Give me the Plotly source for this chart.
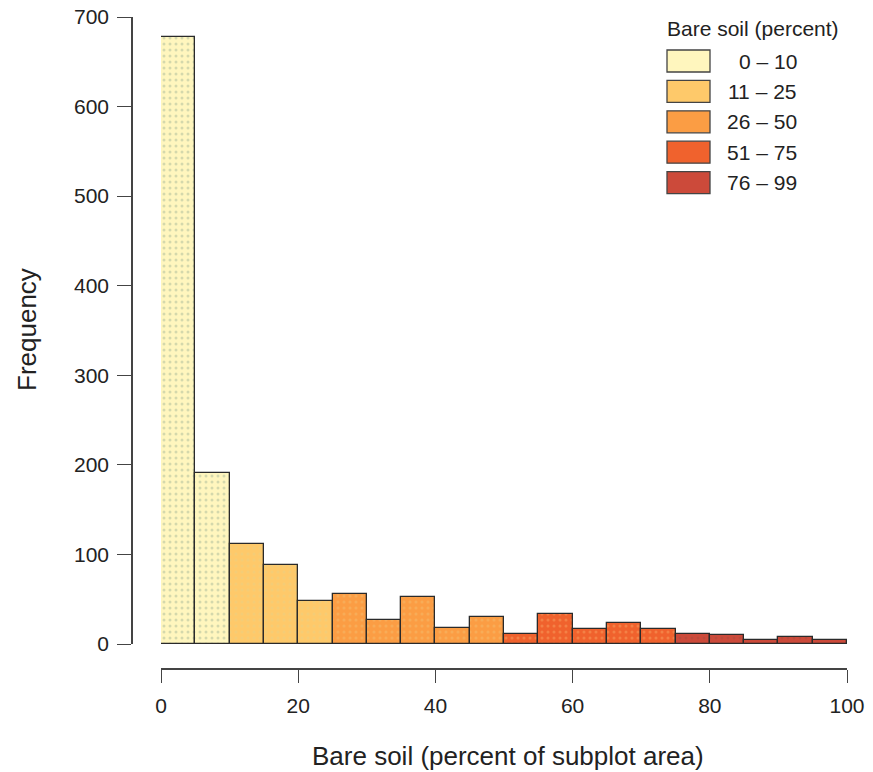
import plotly.graph_objects as go

# ---- data ----
bin_edges = [0, 5, 10, 15, 20, 25, 30, 35, 40, 45, 50, 55, 60, 65, 70, 75, 80, 85, 90, 95, 100]
counts = [678, 191, 112, 88, 48, 56, 27, 53, 18, 30, 11, 34, 17, 23, 17, 11, 10, 5, 8, 5]
bin_class = [0, 0, 1, 1, 1, 2, 2, 2, 2, 2, 3, 3, 3, 3, 3, 4, 4, 4, 4, 4]
class_labels = ["0 \u2013 10", "11 \u2013 25", "26 \u2013 50", "51 \u2013 75", "76 \u2013 99"]
class_colors = ["#FFF6BE", "#FEC96A", "#FB9D44", "#F0622D", "#CC4A3A"]
dot_colors = ["#A9B99A", "#E9CF82", "#F3BC6C", "#F5A060", "#A9493B"]
y_ticks = [0, 100, 200, 300, 400, 500, 600, 700]
x_ticks = [0, 20, 40, 60, 80, 100]
legend_title = "Bare soil (percent)"
x_title = "Bare soil (percent of subplot area)"
y_title = "Frequency"

W, H = 873, 772
ML, MR, MT, MB = 132, 26, 17, 103
PW, PH = W - ML - MR, H - MT - MB
x_dom0 = (161 - ML) / PW
y_dom0 = (669 - 644) / PH

def px(x):
    return (x - ML) / PW

def py(y):
    return (H - MB - y) / PH

fig = go.Figure()
for ci, lab in enumerate(class_labels):
    xs, ys, ws = [], [], []
    for i, c in enumerate(counts):
        if bin_class[i] == ci:
            xs.append((bin_edges[i] + bin_edges[i + 1]) / 2)
            ws.append(bin_edges[i + 1] - bin_edges[i])
            ys.append(c)
    fig.add_trace(go.Bar(
        x=xs, y=ys, width=ws, name=lab, showlegend=False,
        marker=dict(color=class_colors[ci],
                    line=dict(color="#2a2a2a", width=1.3),
                    pattern=dict(shape=".", fgcolor=dot_colors[ci],
                                 bgcolor=class_colors[ci], size=6, solidity=0.2)),
    ))

font_family = "Liberation Sans, Arial, sans-serif"
fig.update_layout(
    width=W, height=H, autosize=False,
    margin=dict(l=ML, r=MR, t=MT, b=MB, autoexpand=False),
    paper_bgcolor="white", plot_bgcolor="white",
    bargap=0,
    font=dict(family=font_family, color="#222222"),
    xaxis=dict(range=[0, 100], domain=[x_dom0, 1], anchor="free", position=0,
               automargin=False,
               tickvals=x_ticks, ticks="outside", ticklen=13, tickwidth=1.3,
               tickcolor="#444", showline=True, linecolor="#444", linewidth=1.5,
               showgrid=False, zeroline=False, tickfont=dict(size=21, color="#222"),
               ticklabelstandoff=5),
    yaxis=dict(range=[0, 700], domain=[y_dom0, 1], anchor="free", position=0,
               automargin=False,
               tickvals=y_ticks, ticks="outside", ticklen=14, tickwidth=1.3,
               tickcolor="#444", showline=True, linecolor="#444", linewidth=1.5,
               showgrid=False, zeroline=False, tickfont=dict(size=21, color="#222"),
               ticklabelstandoff=4),
)

annotations = [
    dict(text=x_title, x=px(508), y=py(756), xref="paper", yref="paper",
         showarrow=False, font=dict(size=26, color="#222"), xanchor="center", yanchor="middle"),
    dict(text=y_title, x=px(27), y=py(330), xref="paper", yref="paper", textangle=-90,
         showarrow=False, font=dict(size=26, color="#222"), xanchor="center", yanchor="middle"),
    dict(text=legend_title, x=px(753), y=py(28), xref="paper", yref="paper",
         showarrow=False, font=dict(size=21, color="#222"), xanchor="center", yanchor="middle"),
]
shapes = []
row0, step = 61, 30.4
for ci, lab in enumerate(class_labels):
    yc = row0 + ci * step
    shapes.append(dict(type="rect", xref="paper", yref="paper",
                       x0=px(667), x1=px(710), y0=py(yc - 11), y1=py(yc + 11),
                       fillcolor=class_colors[ci], line=dict(color="#444", width=1.3)))
    annotations.append(dict(text=lab, x=px(799), y=py(yc), xref="paper", yref="paper",
                            showarrow=False, font=dict(size=21, color="#222"),
                            xanchor="right", yanchor="middle"))
fig.update_layout(annotations=annotations, shapes=shapes)

fig.write_html("out.html", config={"displayModeBar": False},
               post_script="document.body.style.margin='0';document.body.style.overflow='hidden';")
